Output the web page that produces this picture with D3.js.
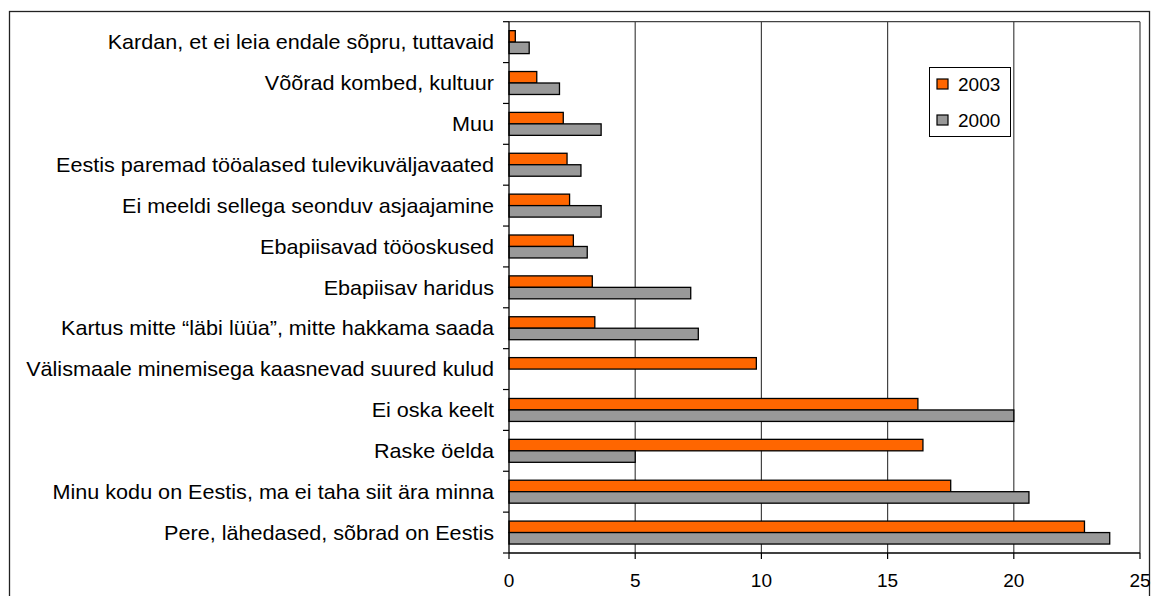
<!DOCTYPE html>
<html><head><meta charset="utf-8">
<script src="https://cdn.jsdelivr.net/npm/d3@7"></script>
<style>
html,body{margin:0;padding:0;background:#fff;}
svg{display:block;font-family:"Liberation Sans",Arial,sans-serif;}
</style></head>
<body>
<svg id="chart" width="1153" height="596"></svg>
<script>
const categories = [
  "Kardan, et ei leia endale sõpru, tuttavaid",
  "Võõrad kombed, kultuur",
  "Muu",
  "Eestis paremad tööalased tulevikuväljavaated",
  "Ei meeldi sellega seonduv asjaajamine",
  "Ebapiisavad tööoskused",
  "Ebapiisav haridus",
  "Kartus mitte “läbi lüüa”, mitte hakkama saada",
  "Välismaale minemisega kaasnevad suured kulud",
  "Ei oska keelt",
  "Raske öelda",
  "Minu kodu on Eestis, ma ei taha siit ära minna",
  "Pere, lähedased, sõbrad on Eestis"
];
const values2003 = [0.25, 1.1, 2.15, 2.3, 2.4, 2.55, 3.3, 3.4, 9.8, 16.2, 16.4, 17.5, 22.8];
const values2000 = [0.8, 2.0, 3.65, 2.85, 3.65, 3.1, 7.2, 7.5, 0, 20.0, 5.0, 20.6, 23.8];
const seriesNames = ["2003", "2000"];
const seriesColors = ["#FF6600", "#999999"];
const xTicks = [0, 5, 10, 15, 20, 25];

const svg = d3.select("#chart");
const pLeft = 509, pRight = 1140, pTop = 21.7, pBottom = 553;

// outer frame
svg.append("rect").attr("x", 9.5).attr("y", 11.5).attr("width", 1140).attr("height", 600)
  .attr("fill", "none").attr("stroke", "#222").attr("stroke-width", 1.3);

const x = d3.scaleLinear().domain([0, 25]).range([pLeft, pRight]);
const y = d3.scaleBand().domain(categories).range([pTop, pBottom]).padding(0);
const sub = d3.scaleBand().domain(seriesNames).range([0, y.bandwidth()]).paddingInner(0).paddingOuter(0.78);

// gridlines
svg.append("g").selectAll("line").data(xTicks.filter(d => d > 0)).join("line")
  .attr("x1", d => x(d)).attr("x2", d => x(d)).attr("y1", pTop).attr("y2", pBottom)
  .attr("stroke", "#444").attr("stroke-width", 1.2);
// plot top border
svg.append("line").attr("x1", pLeft).attr("x2", pRight).attr("y1", pTop).attr("y2", pTop)
  .attr("stroke", "#444").attr("stroke-width", 1.2);

// bars
const data = categories.map((c, i) => ({c, vals: [values2003[i], values2000[i]]}));
const groups = svg.append("g").selectAll("g").data(data).join("g")
  .attr("transform", d => `translate(0,${y(d.c)})`);
groups.selectAll("rect").data(d => d.vals.map((v, k) => ({v, k})).filter(e => e.v > 0)).join("rect")
  .attr("x", x(0))
  .attr("y", e => sub(seriesNames[e.k]))
  .attr("width", e => x(e.v) - x(0))
  .attr("height", sub.bandwidth())
  .attr("fill", e => seriesColors[e.k])
  .attr("stroke", "#000").attr("stroke-width", 1.3);

// y axis
const yAxis = svg.append("g").attr("transform", `translate(${pLeft},0)`);
yAxis.append("line").attr("x1", 0).attr("x2", 0).attr("y1", pTop).attr("y2", pBottom).attr("stroke", "#000").attr("stroke-width", 1.3);
const yTickPos = categories.map(c => y(c)).concat([pBottom]);
yAxis.selectAll("line.t").data(yTickPos).join("line").attr("class", "t")
  .attr("x1", -6).attr("x2", 0).attr("y1", d => d).attr("y2", d => d)
  .attr("stroke", "#000").attr("stroke-width", 1.2);
yAxis.selectAll("text").data(categories).join("text")
  .attr("transform", d => `translate(-15,${y(d) + y.bandwidth() / 2}) scale(1.08,1)`)
  .attr("dy", "0.36em").attr("text-anchor", "end")
  .attr("font-size", 20).attr("fill", "#000").text(d => d);

// x axis
const xAxis = svg.append("g").attr("transform", `translate(0,${pBottom})`);
xAxis.append("line").attr("x1", pLeft).attr("x2", pRight).attr("y1", 0).attr("y2", 0).attr("stroke", "#000").attr("stroke-width", 1.3);
xAxis.selectAll("line.t").data(xTicks).join("line").attr("class", "t")
  .attr("x1", d => x(d)).attr("x2", d => x(d)).attr("y1", 0).attr("y2", 6)
  .attr("stroke", "#000").attr("stroke-width", 1.2);
xAxis.selectAll("text").data(xTicks).join("text")
  .attr("x", d => x(d)).attr("y", 34).attr("text-anchor", "middle")
  .attr("font-size", 19).attr("fill", "#000").text(d => d);

// legend
const lg = svg.append("g");
lg.append("rect").attr("x", 929.5).attr("y", 67.5).attr("width", 81).attr("height", 69)
  .attr("fill", "#fff").attr("stroke", "#000").attr("stroke-width", 1);
const legendY = [84, 120];
seriesNames.forEach((s, i) => {
  lg.append("rect").attr("x", 937).attr("y", legendY[i] - 5).attr("width", 11).attr("height", 10)
    .attr("fill", seriesColors[i]).attr("stroke", "#000").attr("stroke-width", 1.2);
  lg.append("text").attr("x", 958).attr("y", legendY[i]).attr("dy", "0.36em")
    .attr("font-size", 19).attr("fill", "#000").text(s);
});
</script>
</body></html>
